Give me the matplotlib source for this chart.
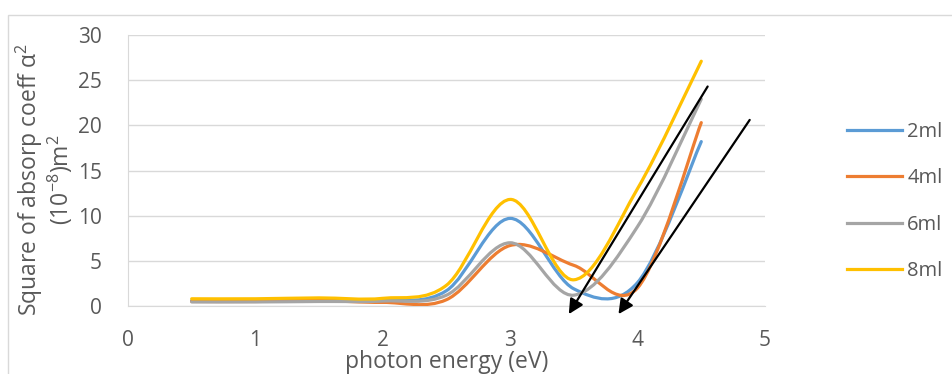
import numpy as np
import matplotlib
matplotlib.use("Agg")
import matplotlib.pyplot as plt
from matplotlib.path import Path
from matplotlib.patches import PathPatch, Rectangle
from matplotlib.lines import Line2D

plt.rcParams['font.family'] = ['Open Sans', 'DejaVu Sans']
plt.rcParams['mathtext.default'] = 'regular'

# values
energy = [0.5, 1.0, 1.5, 2.0, 2.5, 3.0, 3.5, 4.0, 4.5]
ml2 = [0.6, 0.6, 0.65, 0.6, 1.7, 9.7, 1.9, 2.6, 18.2]
ml4 = [0.5, 0.5, 0.6, 0.4, 0.7, 6.7, 4.5, 2.0, 20.3]
ml6 = [0.45, 0.45, 0.5, 0.55, 1.2, 7.0, 1.2, 8.8, 22.9]
ml8 = [0.8, 0.8, 0.9, 0.85, 2.3, 11.8, 2.9, 13.0, 27.1]

series = [("2ml", ml2, "#5B9BD5"), ("4ml", ml4, "#ED7D31"),
          ("6ml", ml6, "#A5A5A5"), ("8ml", ml8, "#FFC000")]

# the two hand-drawn arrows (start -> tip)
arrow_starts = [(4.55, 24.3), (4.88, 20.6)]
arrow_tips = [(3.46, -0.9), (3.85, -0.9)]


def smooth_path(x, y):
    # excel style smoothed line: catmull-rom segments as cubic beziers
    p = np.column_stack([x, y]).astype(float)
    n = len(p)
    verts = [p[0]]
    codes = [Path.MOVETO]
    for i in range(n - 1):
        p0 = p[i - 1] if i > 0 else p[i]
        p3 = p[i + 2] if i + 2 < n else p[i + 1]
        c1 = p[i] + (p[i + 1] - p0) / 6.0
        c2 = p[i + 1] - (p3 - p[i]) / 6.0
        verts += [c1, c2, p[i + 1]]
        codes += [Path.CURVE4] * 3
    return Path(verts, codes)


fig = plt.figure(figsize=(9.53, 3.74), dpi=100)
ax = fig.add_axes([0.1343, 0.1818, 0.6684, 0.7246])

handles = []
for name, vals, col in series:
    ax.add_patch(PathPatch(smooth_path(energy, vals), fill=False, edgecolor=col,
                           lw=2.3, capstyle='round', joinstyle='round', zorder=3))
    handles.append(Line2D([], [], color=col, lw=2.3, label=name))

for s, t in zip(arrow_starts, arrow_tips):
    ax.annotate("", xy=t, xytext=s, annotation_clip=False,
                arrowprops=dict(arrowstyle='-|>', color='black', lw=1.6,
                                mutation_scale=22, shrinkA=0, shrinkB=0), zorder=5)

ax.set_xlim(0, 5)
ax.set_ylim(0, 30)
ax.set_xticks(range(0, 6))
ax.set_yticks(range(0, 31, 5))
ax.grid(axis='y', color='#d9d9d9', lw=1)
ax.set_axisbelow(True)
for side in ['top', 'right']:
    ax.spines[side].set_visible(False)
for side in ['left', 'bottom']:
    ax.spines[side].set_color('#d9d9d9')
ax.tick_params(length=0, labelsize=15, labelcolor='#595959')
ax.tick_params(axis='y', pad=19)
ax.tick_params(axis='x', pad=17)

ax.set_xlabel("photon energy (eV)", fontsize=16.5, color='#595959')
ax.xaxis.label.set_verticalalignment('center')
ax.xaxis.set_label_coords(0.5, -0.205)
ax.set_ylabel("Square of absorp coeff α$^2$\n(10$^{-8}$)m$^2$", fontsize=16.5,
              color='#595959', linespacing=1.05)
ax.yaxis.label.set_verticalalignment('center')
ax.yaxis.set_label_coords(-0.131, 0.465)

ax.legend(handles=handles, loc='upper left', bbox_to_anchor=(1.1, 0.745),
          frameon=False, fontsize=14.5, handlelength=2.75, handletextpad=0.25,
          labelspacing=1.3, labelcolor='#595959')

# chart area border
fig.patches.append(Rectangle((8 / 953, -0.05), 1.0, (374 - 15) / 374 + 0.05,
                             transform=fig.transFigure, fill=False,
                             edgecolor='#d9d9d9', lw=1))

fig.savefig("out.png", dpi=100)
